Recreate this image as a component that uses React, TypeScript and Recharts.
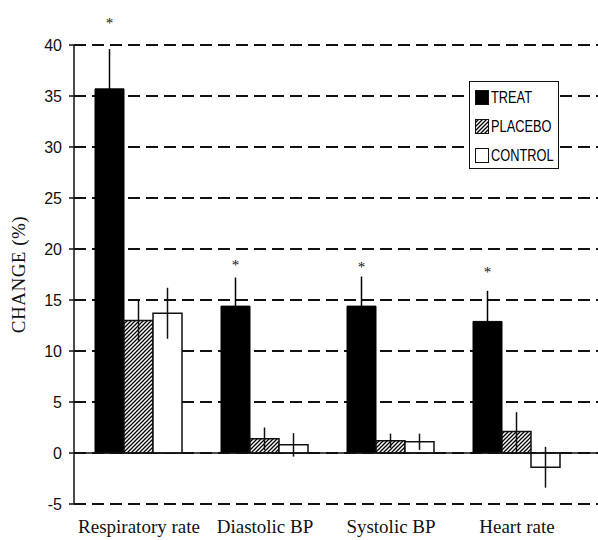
import React from 'react'
import {
  Bar,
  BarChart,
  CartesianGrid,
  ErrorBar,
  LabelList,
  ReferenceLine,
  XAxis,
  YAxis,
} from 'recharts'

const categories = ['Respiratory rate', 'Diastolic BP', 'Systolic BP', 'Heart rate']
const treat = [35.7, 14.4, 14.4, 12.9]
const treatErr = [3.9, 2.8, 2.9, 3.0]
const placebo = [13.0, 1.4, 1.2, 2.1]
const placeboErr = [2.0, 1.1, 0.7, 1.9]
const control = [13.7, 0.8, 1.1, -1.4]
const controlErr = [2.5, 1.15, 0.8, 2.0]
// height (in % units) where the significance star sits
const starAt = [42.5, 18.7, 18.5, 18.0]
const yTicks = [-5, 0, 5, 10, 15, 20, 25, 30, 35, 40]
const legendLabels = ['TREAT', 'PLACEBO', 'CONTROL']

const data = categories.map((name, i) => ({
  name,
  treat: treat[i],
  treatErr: treatErr[i],
  placebo: placebo[i],
  placeboErr: placeboErr[i],
  control: control[i],
  controlErr: controlErr[i],
}))

const ink = '#111'
const serif = '"Liberation Serif", "DejaVu Serif", serif'
const sans = '"Liberation Sans", Arial, sans-serif'

function Hatch({ id }: { id: string }) {
  return (
    <pattern id={id} patternUnits="userSpaceOnUse" width={4} height={4}>
      <rect width={4} height={4} fill="#fff" />
      <path d="M-1,1 l2,-2 M0,4 l4,-4 M3,5 l2,-2" stroke="#000" strokeWidth={1.3} />
    </pattern>
  )
}

const renderStar = (props: any) => {
  const { x, y, width, height, index } = props
  if (x == null || y == null || index == null) return null
  const v = treat[index]
  const ppu = Number(height) / v
  const sy = Number(y) - (starAt[index] - v) * ppu
  return (
    <text x={Number(x) + Number(width) / 2} y={sy + 8} textAnchor="middle" fontFamily={serif} fontSize={15} fill={ink}>
      *
    </text>
  )
}

const swatchFill = ['#000', 'url(#legendHatch)', '#fff']

const LegendBox = () => (
  <div
    style={{
      position: 'absolute',
      left: 469,
      top: 81,
      width: 90,
      height: 88,
      border: `1.5px solid ${ink}`,
      background: '#fff',
      boxSizing: 'border-box',
      padding: '1px 0 0 5px',
    }}
  >
    {legendLabels.map((label, i) => (
      <div key={label} style={{ display: 'flex', alignItems: 'center', height: 29 }}>
        <svg width={14} height={15} style={{ marginRight: 2, flex: 'none' }}>
          <defs>
            <Hatch id="legendHatch" />
          </defs>
          <rect x={0.5} y={0.5} width={13} height={14} fill={swatchFill[i]} stroke={ink} />
        </svg>
        <span
          style={{
            fontFamily: sans,
            fontSize: 16,
            color: '#000',
            display: 'inline-block',
            transform: 'scaleX(0.8)',
            transformOrigin: 'left center',
            whiteSpace: 'nowrap',
          }}
        >
          {label}
        </span>
      </div>
    ))}
  </div>
)

export default function App() {
  return (
    <div style={{ position: 'absolute', left: 0, top: 0, width: 598, height: 540, background: '#fff' }}>
      <BarChart
        width={598}
        height={540}
        data={data}
        margin={{ top: 45, right: 0, bottom: 6, left: 0 }}
        barCategoryGap={19}
        barGap={0}
      >
        <defs>
          <Hatch id="barHatch" />
        </defs>
        <CartesianGrid vertical={false} stroke={ink} strokeWidth={2} strokeDasharray="12 6" />
        <XAxis
          dataKey="name"
          axisLine={false}
          tickLine={false}
          height={30}
          padding={{ left: 2, right: 18 }}
          tickMargin={10}
          tick={{ fill: ink, fontFamily: serif, fontSize: 19 }}
          interval={0}
        />
        <YAxis
          domain={[-5, 40]}
          ticks={yTicks}
          width={74}
          axisLine={{ stroke: ink, strokeWidth: 1.5 }}
          tickLine={{ stroke: ink, strokeWidth: 1.5 }}
          tickSize={5}
          tickMargin={7}
          tick={{ fill: ink, fontFamily: sans, fontSize: 16 }}
          label={{
            value: 'CHANGE (%)',
            angle: -90,
            position: 'insideLeft',
            offset: 18,
            style: { fontFamily: serif, fontSize: 19, fill: ink, textAnchor: 'middle', letterSpacing: 0.5 },
          }}
        />
        <ReferenceLine y={0} stroke={ink} strokeWidth={1.5} />
        <Bar dataKey="treat" fill="#000" stroke="#000" isAnimationActive={false}>
          <ErrorBar dataKey="treatErr" width={0} stroke="#000" strokeWidth={1.5} />
          <LabelList dataKey="treat" content={renderStar} />
        </Bar>
        <Bar dataKey="placebo" fill="url(#barHatch)" stroke={ink} strokeWidth={1.5} isAnimationActive={false}>
          <ErrorBar dataKey="placeboErr" width={0} stroke={ink} strokeWidth={1.5} />
        </Bar>
        <Bar dataKey="control" fill="#fff" stroke={ink} strokeWidth={1.5} isAnimationActive={false}>
          <ErrorBar dataKey="controlErr" width={0} stroke={ink} strokeWidth={1.5} />
        </Bar>
      </BarChart>
      <LegendBox />
    </div>
  )
}
